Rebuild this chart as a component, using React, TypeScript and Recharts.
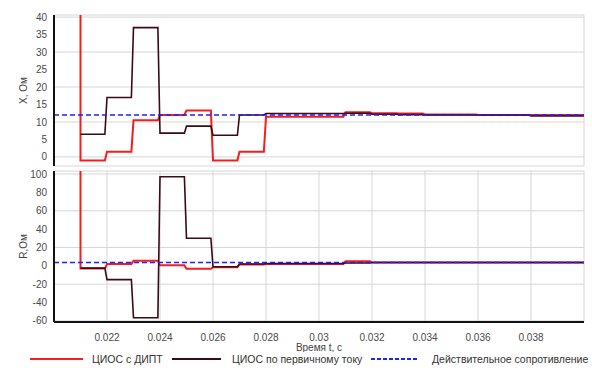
import React from "react";
import {
  CartesianGrid,
  Line,
  LineChart,
  XAxis,
  YAxis,
} from "recharts";

// Time edges of the piecewise-constant intervals, s
const EDGES = [
  0.021, 0.022, 0.023, 0.024, 0.025, 0.026, 0.027, 0.028, 0.029, 0.03, 0.031,
  0.032, 0.033, 0.034, 0.035, 0.036, 0.037, 0.038, 0.039, 0.04,
];
const RAMP = 0.00008;

// X, Ohm per interval
const RED_X = [-1, 1.5, 10.5, 12, 13.3, -1, 1.5, 11.5, 11.5, 11.5, 12.8, 12.5, 12.4, 12.1, 12.1, 12, 12, 12, 12];
const DARK_X = [6.5, 17, 37, 6.8, 8.8, 6.2, 12, 12.4, 12.4, 12.4, 12.5, 12.2, 12.1, 12, 12, 12, 12, 11.7, 11.7];
const TRUE_X = 12;
const RED_X_LEAD = 400;

// R, Ohm per interval
const RED_R = [-3, 2, 5.5, 0.5, -3.2, -1.5, 1.5, 2, 2, 2, 5, 3.6, 3.6, 3.6, 3.6, 3.6, 3.6, 3.6, 3.6];
const DARK_R = [-2.5, -15, -56.5, 97, 30, -1, 2, 2.5, 2.5, 2.5, 3, 3.6, 3.6, 3.6, 3.6, 3.6, 3.6, 3.6, 3.6];
const TRUE_R = 3.6;
const RED_R_LEAD = 800;

const X_TICKS = [0.022, 0.024, 0.026, 0.028, 0.03, 0.032, 0.034, 0.036, 0.038];
const TOP_TICKS = [0, 5, 10, 15, 20, 25, 30, 35, 40];
const BOTTOM_TICKS = [-60, -40, -20, 0, 20, 40, 60, 80, 100];

const RED = "#f51d1d";
const DARK = "#3a0b16";
const BLUE = "#1f1fff";
const FONT = "'Liberation Sans', Arial, sans-serif";

function steps(values: number[], lead?: number) {
  const pts: { t: number; v: number }[] = [];
  if (lead !== undefined) pts.push({ t: EDGES[0], v: lead });
  values.forEach((v, i) => {
    const last = i === values.length - 1;
    pts.push({ t: EDGES[i], v });
    pts.push({ t: last ? EDGES[i + 1] : EDGES[i + 1] - RAMP, v });
  });
  return pts;
}

function flat(v: number) {
  return [
    { t: EDGES[0] - 0.001, v },
    { t: EDGES[EDGES.length - 1], v },
  ];
}

const tickStyle = { fill: "#4a4a4a", fontSize: 10, fontFamily: FONT };
const fmt = (v: number) => String(+v.toFixed(3));

// time tick: drawn a bit lower under the axis line
const TimeTick = (p: any) => (
  <text
    x={p.x}
    y={p.y + 11}
    textAnchor="middle"
    fill="#4a4a4a"
    fontSize={10}
    fontFamily={FONT}
  >
    {fmt(p.payload.value)}
  </text>
);

function Panel({
  height,
  margin,
  domain,
  ticks,
  red,
  dark,
  actual,
  yLabel,
  showX,
}: {
  height: number;
  margin: { top: number; right: number; bottom: number; left: number };
  domain: [number, number];
  ticks: number[];
  red: { t: number; v: number }[];
  dark: { t: number; v: number }[];
  actual: number;
  yLabel: string;
  showX: boolean;
}) {
  return (
    <LineChart width={592} height={height} margin={margin}>
      <CartesianGrid stroke="#d6d6d6" strokeWidth={1} />
      <XAxis
        dataKey="t"
        type="number"
        domain={[0.02, 0.04]}
        ticks={X_TICKS}
        allowDataOverflow
        tick={showX ? TimeTick : false}
        tickLine={false}
        height={showX ? 30 : 0}
        axisLine={{ stroke: "#111", strokeWidth: 2 }}
        label={
          showX
            ? {
                value: "Время t, с",
                position: "insideBottom",
                offset: 1,
                style: { fill: "#444", fontSize: 10, fontFamily: FONT },
              }
            : undefined
        }
      />
      <XAxis
        xAxisId="top"
        orientation="top"
        type="number"
        domain={[0.02, 0.04]}
        height={0}
        tick={false}
        tickLine={false}
        axisLine={{ stroke: "#8a8a8a", strokeWidth: 1.5 }}
      />
      <YAxis
        type="number"
        domain={domain}
        ticks={ticks}
        allowDataOverflow
        width={54}
        tick={tickStyle}
        tickLine={false}
        tickSize={5}
        tickMargin={2}
        axisLine={{ stroke: "#111", strokeWidth: 2 }}
        label={{
          value: yLabel,
          angle: -90,
          position: "insideLeft",
          offset: 23,
          style: { fill: "#444", fontSize: 10, fontFamily: FONT, textAnchor: "middle" },
        }}
      />
      <YAxis
        yAxisId="right"
        orientation="right"
        type="number"
        domain={[0, 1]}
        width={0}
        tick={false}
        tickLine={false}
        axisLine={{ stroke: "#8a8a8a", strokeWidth: 1.5 }}
      />
      <Line
        data={red}
        dataKey="v"
        type="linear"
        stroke={RED}
        strokeWidth={2}
        dot={false}
        isAnimationActive={false}
      />
      <Line
        data={dark}
        dataKey="v"
        type="linear"
        stroke={DARK}
        strokeWidth={1.6}
        dot={false}
        isAnimationActive={false}
      />
      <Line
        data={flat(actual)}
        dataKey="v"
        type="linear"
        stroke={BLUE}
        strokeWidth={1.6}
        strokeDasharray="5 3"
        dot={false}
        isAnimationActive={false}
      />
    </LineChart>
  );
}

function LegendItem({
  x,
  textX,
  width,
  color,
  dash,
  label,
}: {
  x: number;
  textX: number;
  width: number;
  color: string;
  dash?: string;
  label: string;
}) {
  return (
    <>
      <svg
        width={width}
        height={4}
        style={{ position: "absolute", left: x, top: 5 }}
      >
        <line
          x1={0}
          y1={2}
          x2={width}
          y2={2}
          stroke={color}
          strokeWidth={2}
          strokeDasharray={dash}
        />
      </svg>
      <span
        style={{
          position: "absolute",
          left: textX,
          top: 1,
          fontSize: 10.5,
          lineHeight: "12px",
          color: "#333",
          whiteSpace: "nowrap",
        }}
      >
        {label}
      </span>
    </>
  );
}

export default function App() {
  return (
    <div
      style={{
        position: "absolute",
        left: 0,
        top: 0,
        width: 592,
        height: 368,
        background: "#fff",
        fontFamily: FONT,
        overflow: "hidden",
      }}
    >
      <div style={{ position: "absolute", left: 0, top: 0 }}>
        <Panel
          height={168}
          margin={{ top: 15, right: 8, bottom: 2, left: 0 }}
          domain={[-2.6, 40.6]}
          ticks={TOP_TICKS}
          red={steps(RED_X, RED_X_LEAD)}
          dark={steps(DARK_X)}
          actual={TRUE_X}
          yLabel="X, Ом"
          showX={false}
        />
      </div>
      <div style={{ position: "absolute", left: 0, top: 168 }}>
        <Panel
          height={184}
          margin={{ top: 3, right: 8, bottom: 0, left: 0 }}
          domain={[-61.2, 103.3]}
          ticks={BOTTOM_TICKS}
          red={steps(RED_R, RED_R_LEAD)}
          dark={steps(DARK_R)}
          actual={TRUE_R}
          yLabel="R,Ом"
          showX
        />
      </div>
      <div style={{ position: "absolute", left: 0, top: 352, width: 592, height: 16 }}>
        <LegendItem x={30} textX={92} width={53} color={RED} label="ЦИОС с ДИПТ" />
        <LegendItem x={172} textX={232} width={49} color={DARK} label="ЦИОС по первичному току" />
        <LegendItem
          x={371}
          textX={432}
          width={47}
          color={BLUE}
          dash="4 2"
          label="Действительное сопротивление"
        />
      </div>
    </div>
  );
}
